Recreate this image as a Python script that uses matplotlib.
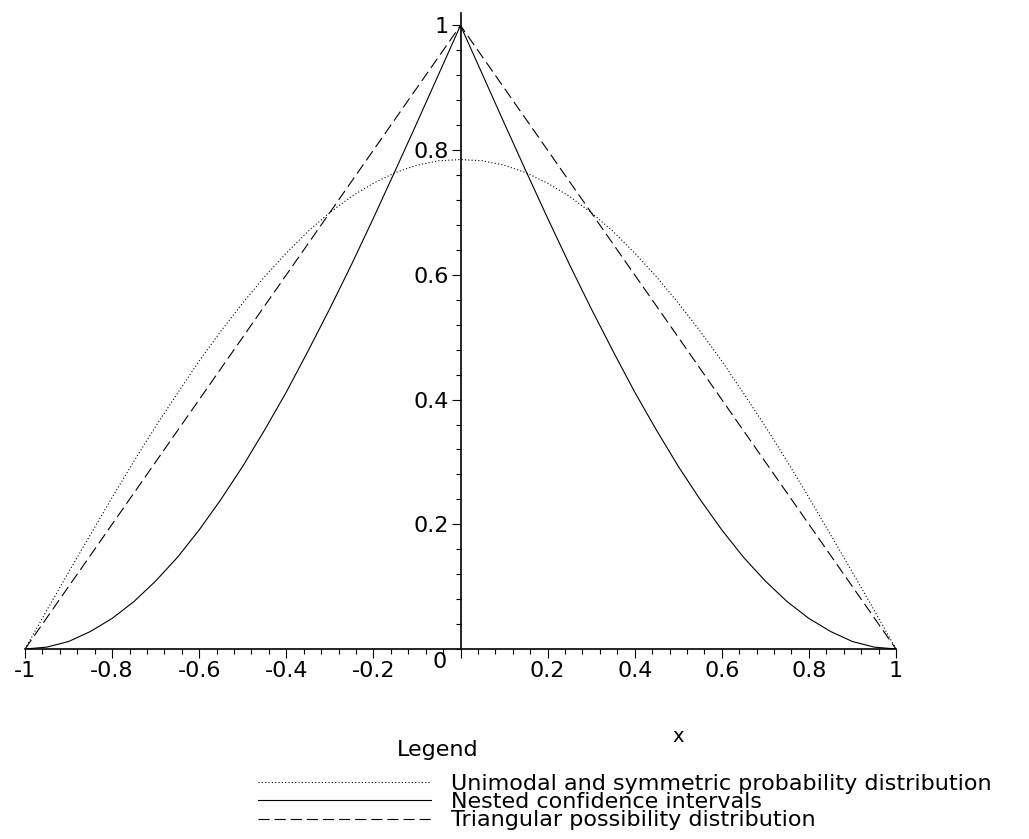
import numpy as np
import matplotlib
matplotlib.use("Agg")
import matplotlib.pyplot as plt
from matplotlib.ticker import FixedLocator, MultipleLocator

plt.rcParams['font.family'] = ['DejaVu Sans']
plt.rcParams['lines.scale_dashes'] = False

# values, x step 0.05
x = [-1.0, -0.95, -0.9, -0.85, -0.8, -0.75, -0.7, -0.65, -0.6, -0.55, -0.5,
     -0.45, -0.4, -0.35, -0.3, -0.25, -0.2, -0.15, -0.1, -0.05, 0.0,
     0.05, 0.1, 0.15, 0.2, 0.25, 0.3, 0.35, 0.4, 0.45, 0.5,
     0.55, 0.6, 0.65, 0.7, 0.75, 0.8, 0.85, 0.9, 0.95, 1.0]
prob = [0.0, 0.062, 0.123, 0.183, 0.243, 0.301, 0.357, 0.410, 0.462, 0.510, 0.555,
        0.597, 0.635, 0.670, 0.700, 0.726, 0.747, 0.764, 0.776, 0.783, 0.785,
        0.783, 0.776, 0.764, 0.747, 0.726, 0.700, 0.670, 0.635, 0.597, 0.555,
        0.510, 0.462, 0.410, 0.357, 0.301, 0.243, 0.183, 0.123, 0.062, 0.0]
nested = [0.0, 0.003, 0.012, 0.028, 0.049, 0.076, 0.109, 0.147, 0.191, 0.240, 0.293,
          0.351, 0.412, 0.478, 0.546, 0.617, 0.691, 0.767, 0.844, 0.922, 1.0,
          0.922, 0.844, 0.767, 0.691, 0.617, 0.546, 0.478, 0.412, 0.351, 0.293,
          0.240, 0.191, 0.147, 0.109, 0.076, 0.049, 0.028, 0.012, 0.003, 0.0]
tri_x = [-1.0, 0.0, 1.0]
tri_y = [0.0, 1.0, 0.0]

labels = ["Unimodal and symmetric probability distribution",
          "Nested confidence intervals",
          "Triangular possibility distribution"]

xticks = [-1, -0.8, -0.6, -0.4, -0.2, 0, 0.2, 0.4, 0.6, 0.8, 1]
xticklabels = ["-1", "-0.8", "-0.6", "-0.4", "-0.2", "", "0.2", "0.4", "0.6", "0.8", "1"]
yticks = [0.2, 0.4, 0.6, 0.8, 1]
yticklabels = ["0.2", "0.4", "0.6", "0.8", "1"]

fig = plt.figure(figsize=(10.29, 8.39), dpi=100)
ax = fig.add_axes([25/1029, 190/839, 871/1029, 636/839])

l1, = ax.plot(x, prob, color='black', lw=0.8, dashes=(0.8, 1.6))
l2, = ax.plot(x, nested, color='black', lw=0.8)
l3, = ax.plot(tri_x, tri_y, color='black', lw=0.8, dashes=(8, 3.6))

ax.set_xlim(-1, 1)
ax.set_ylim(0, 1.02)
for s in ['top', 'right']:
    ax.spines[s].set_visible(False)
ax.spines['left'].set_position(('data', 0))
ax.spines['bottom'].set_position(('data', 0))
ax.spines['left'].set_linewidth(1.2)
ax.spines['bottom'].set_linewidth(1.2)

ax.xaxis.set_major_locator(FixedLocator(xticks))
ax.set_xticklabels(xticklabels)
ax.xaxis.set_minor_locator(MultipleLocator(0.04))
ax.yaxis.set_major_locator(FixedLocator(yticks))
ax.set_yticklabels(yticklabels)
ax.yaxis.set_minor_locator(MultipleLocator(0.04))
ax.tick_params(which='major', length=6.5, width=0.8, labelsize=16, pad=2)
ax.tick_params(which='minor', length=3.6, width=0.8)

ax.text(-0.047, -0.021, "0", fontsize=16, ha='center', va='center')
ax.set_xlabel("x", fontsize=14, va='center')
ax.xaxis.set_label_coords(0.75, -0.138)

fig.text(438/1029, 1 - 750/839, "Legend", fontsize=16, ha='center', va='center')
fig.legend([l1, l2, l3], labels, loc='upper left',
           bbox_to_anchor=(258/1029, 1 - 774/839), frameon=False,
           fontsize=16, handlelength=7.8, handletextpad=0.9,
           labelspacing=-0.08, borderpad=0, borderaxespad=0)

fig.savefig("out.png", dpi=100)
